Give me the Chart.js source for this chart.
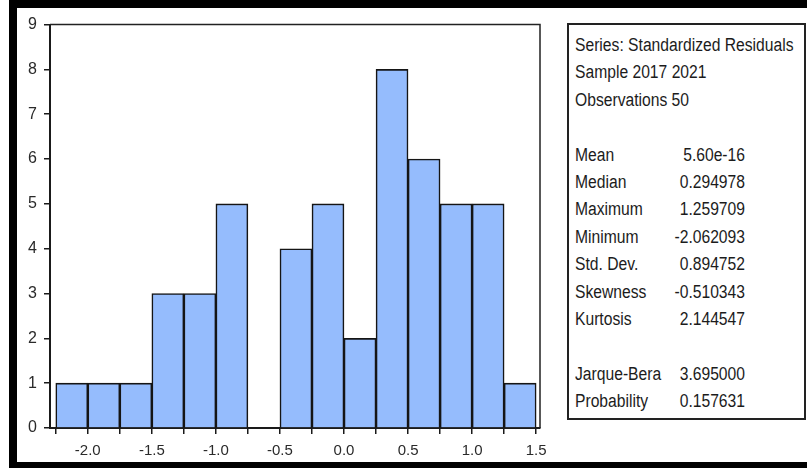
<!DOCTYPE html>
<html>
<head>
<meta charset="utf-8">
<script src="https://cdn.jsdelivr.net/npm/chart.js@4.4.1/dist/chart.umd.min.js"></script>
<style>
  body { margin: 0; background: #fff; width: 807px; height: 468px; overflow: hidden; position: relative;
         font-family: "Liberation Sans", Arial, sans-serif; }
  #frame { position: absolute; left: 9px; top: 0; width: 820px; height: 454px;
           border-left: 8px solid #000; border-top: 8px solid #000; border-bottom: 6px solid #000; }
  #hist { position: absolute; left: 17px; top: 8px; }
  #stats { position: absolute; left: 567px; top: 23px; width: 235px; height: 393px;
           border: 2px solid #222; color: #1c1c1c; font-size: 18px; }
  .row { position: absolute; left: 6px; height: 20px; line-height: 20px; white-space: nowrap;
         transform: scaleX(0.87); transform-origin: left center; }
  .val { position: absolute; left: 40px; width: 136px; text-align: right; height: 20px; line-height: 20px; white-space: nowrap;
         transform: scaleX(0.87); transform-origin: right center; }
</style>
</head>
<body>
<div id="frame"></div>
<canvas id="hist" width="543" height="454"></canvas>
<div id="stats"></div>
<script>
// histogram bins (left edges), bin width and counts
const binLeft = [-2.25, -2.0, -1.75, -1.5, -1.25, -1.0, -0.75, -0.5, -0.25, 0.0, 0.25, 0.5, 0.75, 1.0, 1.25];
const binWidth = 0.25;
const counts = [1, 1, 1, 3, 3, 5, 0, 4, 5, 2, 8, 6, 5, 5, 1];
const xTickValues = [-2.25, -2.0, -1.75, -1.5, -1.25, -1.0, -0.75, -0.5, -0.25, 0.0, 0.25, 0.5, 0.75, 1.0, 1.25, 1.5];

// summary statistics box
const headerLines = ['Series: Standardized Residuals', 'Sample 2017 2021', 'Observations 50'];
const statNames = ['Mean', 'Median', 'Maximum', 'Minimum', 'Std. Dev.', 'Skewness', 'Kurtosis'];
const statValues = ['5.60e-16', '0.294978', '1.259709', '-2.062093', '0.894752', '-0.510343', '2.144547'];
const testNames = ['Jarque-Bera', 'Probability'];
const testValues = ['3.695000', '0.157631'];

const FONT = '"Liberation Sans", Arial, sans-serif';
const barBlue = 'rgb(149,188,253)';
const ink = '#1a1a1a';

const frameBox = {
    id: 'frameBox',
    afterDraw(chart) {
        const { ctx, chartArea: a } = chart;
        ctx.save();
        ctx.strokeStyle = '#222';
        ctx.lineWidth = 1.5;
        ctx.beginPath();
        ctx.moveTo(a.left, a.top);
        ctx.lineTo(a.right, a.top);
        ctx.lineTo(a.right, a.bottom);
        ctx.stroke();
        ctx.restore();
    }
};

new Chart(document.getElementById('hist').getContext('2d'), {
    type: 'bar',
    data: {
        datasets: [{
            data: binLeft.map((b, i) => ({ x: b + binWidth / 2, y: counts[i] })),
            backgroundColor: barBlue,
            borderColor: '#151515',
            borderWidth: 1.6,
            borderSkipped: 'start',
            barPercentage: 1,
            categoryPercentage: 1
        }]
    },
    options: {
        responsive: false,
        animation: false,
        layout: { padding: { top: 14, right: 20, left: 0, bottom: 0 } },
        plugins: { legend: { display: false }, tooltip: { enabled: false } },
        scales: {
            x: {
                type: 'linear',
                min: -2.295,
                max: 1.53,
                offset: false,
                grid: { offset: false, drawOnChartArea: false, color: ink, lineWidth: 1.5, tickLength: 6 },
                border: { color: ink, width: 2 },
                afterBuildTicks: (axis) => { axis.ticks = xTickValues.map(v => ({ value: v })); },
                afterFit: (axis) => { axis.height = 34; },
                ticks: {
                    autoSkip: false,
                    maxRotation: 0,
                    padding: 8,
                    color: '#2a2a2a',
                    font: { family: FONT, size: 15 },
                    callback: (v) => (Math.abs(v * 2 - Math.round(v * 2)) < 1e-9 ? v.toFixed(1) : '')
                }
            },
            y: {
                min: 0,
                max: 9,
                grid: { drawOnChartArea: false, color: ink, lineWidth: 1.5, tickLength: 6 },
                border: { color: ink, width: 2 },
                afterFit: (axis) => { axis.width = 33; },
                ticks: {
                    stepSize: 1,
                    padding: 7,
                    color: '#2a2a2a',
                    font: { family: FONT, size: 16 }
                }
            }
        }
    },
    plugins: [frameBox]
});

// stats panel as real text
const stats = document.getElementById('stats');
const lineH = 27.4;
let line = 0;
function addRow(label, value) {
    const top = 10 + line * lineH;
    const r = document.createElement('div');
    r.className = 'row';
    r.style.top = top + 'px';
    r.textContent = label;
    stats.appendChild(r);
    if (value !== undefined) {
        const v = document.createElement('div');
        v.className = 'val';
        v.style.top = top + 'px';
        v.textContent = value;
        stats.appendChild(v);
    }
    line++;
}
headerLines.forEach(h => addRow(h));
line++;
statNames.forEach((n, i) => addRow(n, statValues[i]));
line++;
testNames.forEach((n, i) => addRow(n, testValues[i]));
</script>
</body>
</html>
